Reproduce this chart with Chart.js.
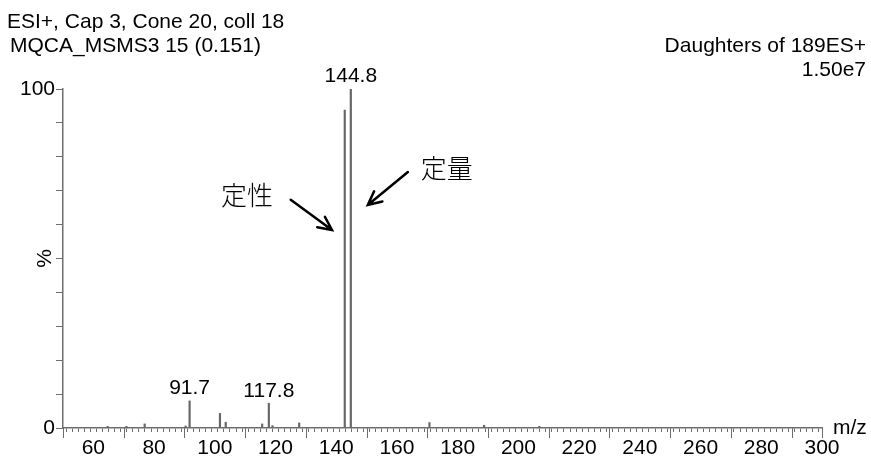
<!DOCTYPE html>
<html>
<head>
<meta charset="utf-8">
<script src="https://cdn.jsdelivr.net/npm/chart.js@4"></script>
<style>
html,body{margin:0;padding:0;background:#fff;}
#wrap{position:relative;width:871px;height:463px;}
</style>
</head>
<body>
<div id="wrap"><canvas id="c" width="871" height="463"></canvas></div>
<script>
// ---- data ----
const mz        = [64.7, 70.9, 76.9, 90.4, 91.7, 101.7, 103.6, 115.6, 117.8, 119.0, 127.8, 142.8, 144.8, 170.7, 188.7, 206.9];
const intensity = [0.5,  0.5,  1.2,  0.6,  8.0,  4.3,   1.7,   1.2,   7.3,   0.7,   1.5,   93.8,  100,   1.6,   0.8,   0.5];
const labelledPeaks = [91.7, 117.8, 144.8];
const xLabelValues = [60, 80, 100, 120, 140, 160, 180, 200, 220, 240, 260, 280, 300];
const yLabelValues = [0, 100];
const headerLeft  = ["ESI+, Cap 3, Cone 20, coll 18", "MQCA_MSMS3 15 (0.151)"];
const headerRight = ["Daughters of 189ES+", "1.50e7"];
const xAxisName = "m/z";
const yAxisName = "%";
// annotations: text + arrow (tail -> tip) in data coordinates
const annotTexts  = ["定性", "定量"];
const annotTextPos = [[110.6, 68.7], [176.4, 76.7]];
const arrowTail = [[125.0, 67.3], [163.6, 75.5]];
const arrowTip  = [[138.6, 58.4], [150.4, 65.8]];

const FONT = "'Liberation Sans', Arial, sans-serif";
const AXIS_COLOR = '#6e6e6e';

const decor = {
  id: 'decor',
  afterDraw(chart) {
    const ctx = chart.ctx;
    const xs = chart.scales.x, ys = chart.scales.y;
    const base = ys.getPixelForValue(0);
    ctx.save();
    // long x ticks at odd tens and ends
    ctx.strokeStyle = AXIS_COLOR;
    ctx.lineWidth = 1;
    const longs = [50, 300];
    for (let v = 70; v < 300; v += 20) longs.push(v);
    longs.forEach(v => {
      const px = Math.round(xs.getPixelForValue(v)) + 0.5;
      ctx.beginPath(); ctx.moveTo(px, base); ctx.lineTo(px, base + 10); ctx.stroke();
    });
    // header text
    ctx.fillStyle = '#000';
    ctx.font = '21px ' + FONT;
    ctx.textBaseline = 'middle';
    ctx.textAlign = 'left';
    ctx.fillText(headerLeft[0], 7, 22);
    ctx.fillText(headerLeft[1], 10, 46);
    ctx.textAlign = 'right';
    ctx.fillText(headerRight[0], 866, 46);
    ctx.fillText(headerRight[1], 866, 70);
    // m/z
    ctx.textAlign = 'left';
    ctx.fillText(xAxisName, xs.right + 11, base);
    // %
    ctx.save();
    ctx.translate(ys.right - 18, ys.getPixelForValue(50));
    ctx.rotate(-Math.PI / 2);
    ctx.textAlign = 'center';
    ctx.fillText(yAxisName, 0, 0);
    ctx.restore();
    // peak labels
    ctx.textAlign = 'center';
    ctx.textBaseline = 'bottom';
    ctx.font = '21px ' + FONT;
    labelledPeaks.forEach(p => {
      const i = mz.indexOf(p);
      ctx.fillText(p.toFixed(1), xs.getPixelForValue(p), ys.getPixelForValue(intensity[i]) - 2);
    });
    // annotations
    ctx.font = '300 26px "Noto Sans CJK JP", sans-serif';
    ctx.textBaseline = 'middle';
    annotTexts.forEach((t, i) => {
      ctx.fillText(t, xs.getPixelForValue(annotTextPos[i][0]), ys.getPixelForValue(annotTextPos[i][1]));
    });
    ctx.strokeStyle = '#000';
    ctx.lineWidth = 2.5;
    ctx.lineCap = 'round';
    arrowTail.forEach((tail, i) => {
      const x0 = xs.getPixelForValue(tail[0]), y0 = ys.getPixelForValue(tail[1]);
      const x1 = xs.getPixelForValue(arrowTip[i][0]), y1 = ys.getPixelForValue(arrowTip[i][1]);
      const a = Math.atan2(y1 - y0, x1 - x0);
      const h = 15, s = 0.45;
      ctx.beginPath();
      ctx.moveTo(x0, y0); ctx.lineTo(x1, y1);
      ctx.moveTo(x1 - h * Math.cos(a - s), y1 - h * Math.sin(a - s));
      ctx.lineTo(x1, y1);
      ctx.lineTo(x1 - h * Math.cos(a + s), y1 - h * Math.sin(a + s));
      ctx.stroke();
    });
    ctx.restore();
  }
};

new Chart(document.getElementById('c'), {
  type: 'bar',
  data: {
    datasets: [{
      data: mz.map((m, i) => ({x: m, y: intensity[i]})),
      backgroundColor: '#666666',
      barThickness: 1.5,
      borderWidth: 0
    }]
  },
  options: {
    responsive: false,
    animation: false,
    plugins: { legend: {display: false}, tooltip: {enabled: false} },
    layout: { padding: {top: 89, right: 49, left: 0, bottom: 0} },
    scales: {
      x: {
        type: 'linear', min: 50, max: 300, offset: false,
        afterBuildTicks(scale) {
          const t = [];
          for (let v = 50; v <= 300; v += 2) t.push({value: v});
          scale.ticks = t;
        },
        afterFit(scale) { scale.height = 35; },
        ticks: {
          autoSkip: false, maxRotation: 0, minRotation: 0,
          color: '#000', font: {family: FONT, size: 21}, padding: 4,
          callback: v => xLabelValues.includes(v) ? String(v) : ''
        },
        grid: { drawOnChartArea: false, drawTicks: true, tickLength: 4, color: AXIS_COLOR, tickColor: AXIS_COLOR },
        border: { display: true, color: AXIS_COLOR, width: 1.5 }
      },
      y: {
        type: 'linear', min: 0, max: 100,
        afterFit(scale) { scale.width = 63; },
        ticks: {
          stepSize: 10, color: '#000', font: {family: FONT, size: 21}, padding: 1,
          callback: v => yLabelValues.includes(v) ? String(v) : ''
        },
        grid: { drawOnChartArea: false, drawTicks: true, tickLength: 7, color: AXIS_COLOR, tickColor: AXIS_COLOR },
        border: { display: true, color: AXIS_COLOR, width: 1.5 }
      }
    }
  },
  plugins: [decor]
});
</script>
</body>
</html>
